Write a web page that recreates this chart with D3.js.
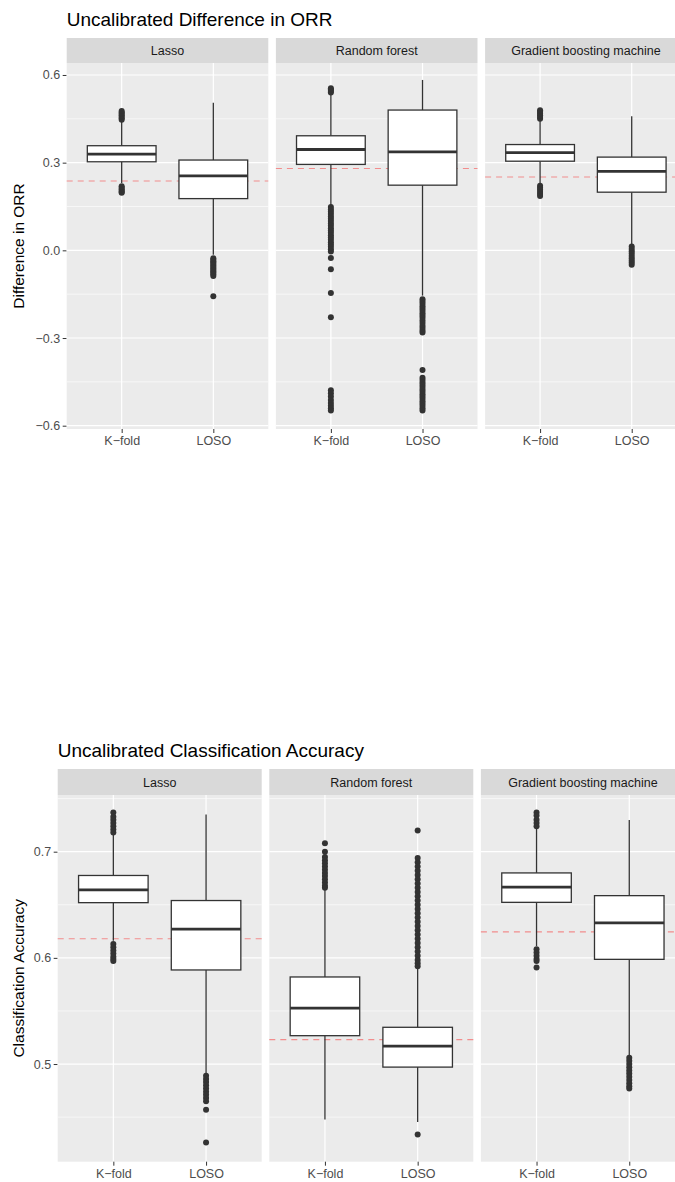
<!DOCTYPE html>
<html>
<head>
<meta charset="utf-8">
<script src="https://cdn.jsdelivr.net/npm/d3@7"></script>
<style>
  html, body { margin: 0; padding: 0; background: #ffffff; }
  svg { display: block; }
</style>
</head>
<body>
<script>
// ---------------- DATA ----------------
const models = ["Lasso", "Random forest", "Gradient boosting machine"];
const methods = ["K-fold", "LOSO"];

// Chart 1: Uncalibrated Difference in ORR
const orrTitle = "Uncalibrated Difference in ORR";
const orrYLabel = "Difference in ORR";
const orrTicks = [-0.6, -0.3, 0.0, 0.3, 0.6];
const orrTickLabels = ["\u22120.6", "\u22120.3", "0.0", "0.3", "0.6"];
const orrMinorTicks = [-0.45, -0.15, 0.15, 0.45];
const orrWhiskerLow  = [[0.23, -0.015], [0.155, -0.155], [0.225, 0.02]];
const orrQ1          = [[0.303, 0.177], [0.294, 0.223], [0.305, 0.199]];
const orrMedian      = [[0.329, 0.255], [0.345, 0.337], [0.334, 0.270]];
const orrQ3          = [[0.358, 0.309], [0.392, 0.480], [0.362, 0.319]];
const orrWhiskerHigh = [[0.443, 0.505], [0.535, 0.583], [0.445, 0.459]];
const orrOutliers = [
  [
    [0.447, 0.452, 0.457, 0.462, 0.467, 0.472, 0.477, 0.219, 0.214, 0.209, 0.204, 0.200, 0.197],
    [-0.027, -0.032, -0.037, -0.042, -0.047, -0.052, -0.057, -0.062, -0.067, -0.072, -0.077, -0.082, -0.088, -0.157]
  ],
  [
    [0.540, 0.545, 0.550, 0.555, 0.148, 0.140, 0.132, 0.124, 0.116, 0.108, 0.100, 0.092, 0.084, 0.076, 0.068, 0.060,
     0.052, 0.044, 0.036, 0.028, 0.020, 0.012, 0.004, -0.004, -0.026, -0.065, -0.146, -0.229,
     -0.479, -0.489, -0.500, -0.512, -0.522, -0.532, -0.540, -0.548],
    [-0.167, -0.175, -0.183, -0.191, -0.199, -0.207, -0.215, -0.223, -0.231, -0.240, -0.249, -0.258, -0.266, -0.274, -0.281,
     -0.409, -0.436, -0.444, -0.452, -0.460, -0.468, -0.476, -0.484, -0.492, -0.500, -0.508, -0.516, -0.524,
     -0.532, -0.540, -0.548]
  ],
  [
    [0.450, 0.456, 0.462, 0.468, 0.474, 0.479, 0.221, 0.214, 0.207, 0.200, 0.193, 0.186],
    [0.013, 0.005, -0.003, -0.011, -0.019, -0.027, -0.035, -0.042, -0.049]
  ]
];
const orrReference = [0.237, 0.280, 0.251];

// Chart 2: Uncalibrated Classification Accuracy
const accTitle = "Uncalibrated Classification Accuracy";
const accYLabel = "Classification Accuracy";
const accTicks = [0.5, 0.6, 0.7];
const accTickLabels = ["0.5", "0.6", "0.7"];
const accMinorTicks = [0.45, 0.55, 0.65, 0.75];
const accWhiskerLow  = [[0.616, 0.491], [0.4477, 0.4455], [0.611, 0.5086]];
const accQ1          = [[0.652, 0.5886], [0.5267, 0.4971], [0.6523, 0.5986]];
const accMedian      = [[0.664, 0.627], [0.5527, 0.5168], [0.6667, 0.633]];
const accQ3          = [[0.6776, 0.654], [0.582, 0.5346], [0.680, 0.6586]];
const accWhiskerHigh = [[0.716, 0.735], [0.664, 0.590], [0.722, 0.7298]];
const accOutliers = [
  [
    [0.737, 0.733, 0.730, 0.727, 0.724, 0.721, 0.718, 0.613, 0.610, 0.607, 0.604, 0.601, 0.599, 0.597],
    [0.489, 0.486, 0.483, 0.480, 0.477, 0.474, 0.471, 0.468, 0.465, 0.457, 0.426]
  ],
  [
    [0.708, 0.700, 0.695, 0.692, 0.689, 0.686, 0.683, 0.680, 0.677, 0.674, 0.671, 0.668, 0.666],
    [0.720, 0.694, 0.690, 0.686, 0.682, 0.678, 0.674, 0.670, 0.666, 0.662, 0.658, 0.654, 0.650, 0.646,
     0.642, 0.638, 0.634, 0.630, 0.626, 0.622, 0.618, 0.614, 0.610, 0.606, 0.602, 0.598, 0.595, 0.592, 0.4336]
  ],
  [
    [0.737, 0.734, 0.730, 0.727, 0.724, 0.608, 0.605, 0.602, 0.599, 0.597, 0.591],
    [0.506, 0.503, 0.500, 0.497, 0.494, 0.491, 0.488, 0.485, 0.482, 0.479, 0.477]
  ]
];
const accReference = [0.618, 0.523, 0.6245];

// ---------------- DRAWING ----------------
const W = 675, H = 1182;
const svg = d3.select("body").append("svg")
  .attr("width", W).attr("height", H)
  .attr("viewBox", `0 0 ${W} ${H}`);
svg.append("rect").attr("width", W).attr("height", H).attr("fill", "#ffffff");

const FONT = "'Liberation Sans', Arial, Helvetica, sans-serif";

function drawChart(cfg) {
  const g = svg.append("g");
  const y = d3.scaleLinear().domain(cfg.yDomain).range([cfg.panelBottom, cfg.panelTop]);

  // Title
  g.append("text")
    .attr("x", cfg.left).attr("y", cfg.titleY)
    .attr("font-family", FONT).attr("font-size", 19).attr("fill", "#000")
    .text(cfg.title);

  // Y axis title
  g.append("text")
    .attr("transform", `translate(${cfg.yLabelX},${(cfg.panelTop + cfg.panelBottom) / 2}) rotate(-90)`)
    .attr("text-anchor", "middle")
    .attr("font-family", FONT).attr("font-size", 15.5).attr("fill", "#000")
    .text(cfg.yLabel);

  // Y axis (left of first panel)
  const yAxis = d3.axisLeft(y).tickValues(cfg.ticks)
    .tickFormat((d, i) => cfg.tickLabels[i]).tickSize(4).tickPadding(2.5);
  const ya = g.append("g").attr("transform", `translate(${cfg.left},0)`).call(yAxis);
  ya.select(".domain").remove();
  ya.selectAll("line").attr("stroke", "#333333").attr("stroke-width", 1);
  ya.selectAll("text").attr("font-family", FONT).attr("font-size", 12.5).attr("fill", "#4d4d4d");

  models.forEach((model, mi) => {
    const px = cfg.left + mi * (cfg.panelW + cfg.gap);
    const pg = g.append("g").attr("transform", `translate(${px},0)`);
    const x = d3.scalePoint().domain(methods).range([0, cfg.panelW]).padding(0.6);
    const bw = x.step() * 0.75;

    // strip
    pg.append("rect").attr("x", 0).attr("y", cfg.stripTop)
      .attr("width", cfg.panelW).attr("height", cfg.panelTop - cfg.stripTop)
      .attr("fill", "#d9d9d9");
    pg.append("text").attr("x", cfg.panelW / 2).attr("y", (cfg.stripTop + cfg.panelTop) / 2 + 4.5)
      .attr("text-anchor", "middle").attr("font-family", FONT).attr("font-size", 12.5)
      .attr("fill", "#1a1a1a").text(model);

    // panel background
    pg.append("rect").attr("x", 0).attr("y", cfg.panelTop)
      .attr("width", cfg.panelW).attr("height", cfg.panelBottom - cfg.panelTop)
      .attr("fill", "#ebebeb");

    // grid
    pg.selectAll(".minor").data(cfg.minorTicks.filter(v => y(v) >= cfg.panelTop && y(v) <= cfg.panelBottom))
      .enter().append("line")
      .attr("x1", 0).attr("x2", cfg.panelW).attr("y1", d => y(d)).attr("y2", d => y(d))
      .attr("stroke", "#ffffff").attr("stroke-width", 0.6);
    pg.selectAll(".major").data(cfg.ticks).enter().append("line")
      .attr("x1", 0).attr("x2", cfg.panelW).attr("y1", d => y(d)).attr("y2", d => y(d))
      .attr("stroke", "#ffffff").attr("stroke-width", 1.2);
    pg.selectAll(".vmajor").data(methods).enter().append("line")
      .attr("x1", d => x(d)).attr("x2", d => x(d))
      .attr("y1", cfg.panelTop).attr("y2", cfg.panelBottom)
      .attr("stroke", "#ffffff").attr("stroke-width", 1.2);

    // reference dashed line
    pg.append("line").attr("x1", 0).attr("x2", cfg.panelW)
      .attr("y1", y(cfg.reference[mi])).attr("y2", y(cfg.reference[mi]))
      .attr("stroke", "#f28d8d").attr("stroke-width", 1.1).attr("stroke-dasharray", "6,5");

    methods.forEach((meth, ki) => {
      const cx = x(meth);
      const lo = cfg.whiskerLow[mi][ki], hi = cfg.whiskerHigh[mi][ki];
      const q1 = cfg.q1[mi][ki], q3 = cfg.q3[mi][ki], med = cfg.median[mi][ki];
      // whiskers
      pg.append("line").attr("x1", cx).attr("x2", cx).attr("y1", y(q3)).attr("y2", y(hi))
        .attr("stroke", "#333333").attr("stroke-width", 1.3);
      pg.append("line").attr("x1", cx).attr("x2", cx).attr("y1", y(q1)).attr("y2", y(lo))
        .attr("stroke", "#333333").attr("stroke-width", 1.3);
      // box
      pg.append("rect").attr("x", cx - bw / 2).attr("y", y(q3))
        .attr("width", bw).attr("height", y(q1) - y(q3))
        .attr("fill", "#ffffff").attr("stroke", "#333333").attr("stroke-width", 1.3);
      // median
      pg.append("line").attr("x1", cx - bw / 2).attr("x2", cx + bw / 2)
        .attr("y1", y(med)).attr("y2", y(med))
        .attr("stroke", "#333333").attr("stroke-width", 2.8);
      // outliers
      pg.selectAll(null).data(cfg.outliers[mi][ki]).enter().append("circle")
        .attr("cx", cx).attr("cy", d => y(d)).attr("r", 3)
        .attr("fill", "#333333");
    });

    // x axis
    const xAxis = d3.axisBottom(x).tickSize(4).tickPadding(3)
      .tickFormat(d => d.replace("-", "\u2212"));
    const xa = pg.append("g").attr("transform", `translate(0,${cfg.panelBottom})`).call(xAxis);
    xa.select(".domain").remove();
    xa.selectAll("line").attr("stroke", "#333333").attr("stroke-width", 1);
    xa.selectAll("text").attr("font-family", FONT).attr("font-size", 12.5).attr("fill", "#4d4d4d");
  });
}

drawChart({
  title: orrTitle, yLabel: orrYLabel,
  ticks: orrTicks, tickLabels: orrTickLabels, minorTicks: orrMinorTicks,
  yDomain: [-0.6113, 0.641],
  left: 66.7, panelW: 201.6, gap: 7.6,
  titleY: 26, stripTop: 38, panelTop: 63, panelBottom: 429, yLabelX: 24,
  whiskerLow: orrWhiskerLow, q1: orrQ1, median: orrMedian, q3: orrQ3, whiskerHigh: orrWhiskerHigh,
  outliers: orrOutliers, reference: orrReference
});

drawChart({
  title: accTitle, yLabel: accYLabel,
  ticks: accTicks, tickLabels: accTickLabels, minorTicks: accMinorTicks,
  yDomain: [0.408, 0.7534],
  left: 57.7, panelW: 204, gap: 7.6,
  titleY: 757, stripTop: 769, panelTop: 795, panelBottom: 1161.7, yLabelX: 24,
  whiskerLow: accWhiskerLow, q1: accQ1, median: accMedian, q3: accQ3, whiskerHigh: accWhiskerHigh,
  outliers: accOutliers, reference: accReference
});
</script>
</body>
</html>
